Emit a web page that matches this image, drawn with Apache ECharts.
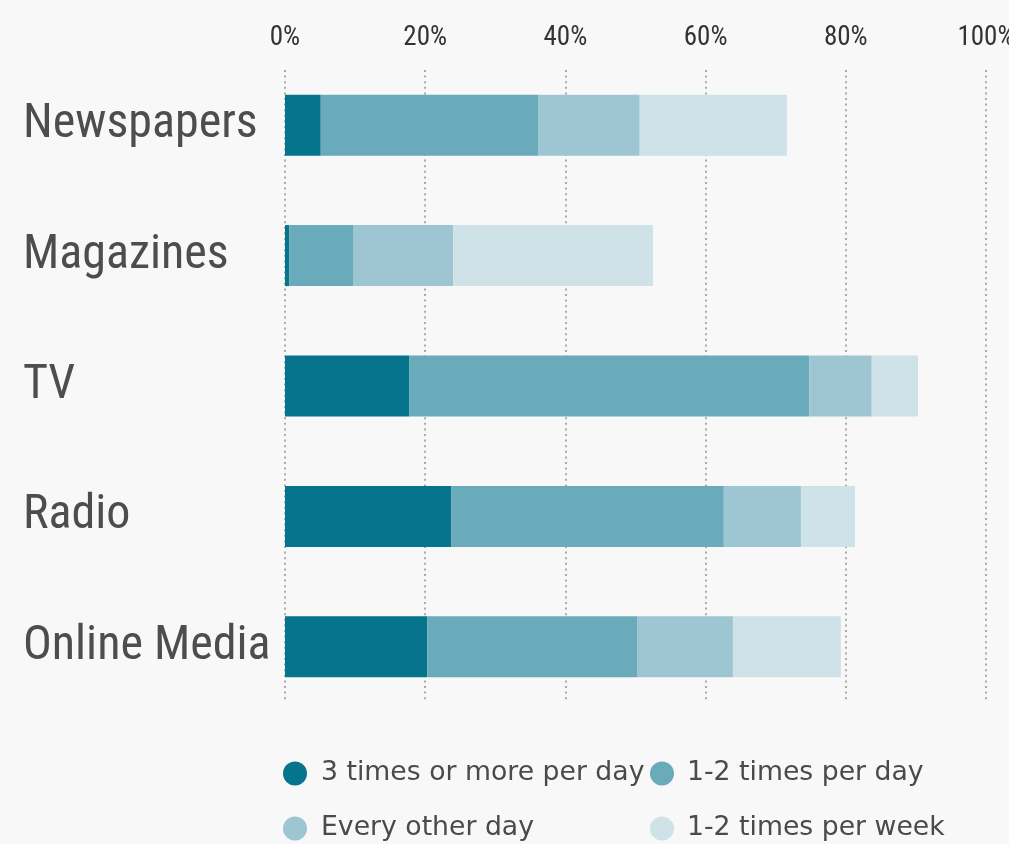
<!DOCTYPE html>
<html><head><meta charset="utf-8">
<script src="https://cdn.jsdelivr.net/npm/echarts@6/dist/echarts.min.js"></script>
<style>html,body{margin:0;padding:0;background:#f8f8f8}#main{width:1009px;height:844px}</style>
</head><body><div id="main"></div>
<script>
var categories = ["Newspapers", "Magazines", "TV", "Radio", "Online Media"];
var seriesNames = ["3 times or more per day", "1-2 times per day", "Every other day", "1-2 times per week"];
var s3PlusDay = [5.1, 0.6, 17.7, 23.7, 20.3];
var s12Day = [31.0, 9.1, 57.1, 38.9, 30.0];
var sOtherDay = [14.5, 14.3, 8.9, 11.0, 13.6];
var s12Week = [21.0, 28.5, 6.6, 7.7, 15.4];
var xTicks = [0, 20, 40, 60, 80, 100];
var colors = ["#06748c", "#6aabbb", "#9dc6d2", "#cee2e8"];

var allData = [s3PlusDay, s12Day, sOtherDay, s12Week];
var condensed = "'Roboto Condensed', 'DejaVu Sans Condensed', sans-serif";
var legendText = {color: '#4a4a4a', fontFamily: 'DejaVu Sans', fontSize: 26.7};

var chart = echarts.init(document.getElementById('main'), null, {renderer: 'canvas'});
chart.setOption({
  backgroundColor: '#f8f8f8',
  animation: false,
  grid: [
    {left: 285, right: 23, top: 60, height: 652, outerBoundsMode: 'none', containLabel: false},
    {left: 285, right: 23, top: 70, height: 632, outerBoundsMode: 'none', containLabel: false}
  ],
  xAxis: [
    {type: 'value', gridIndex: 0, position: 'top', min: xTicks[0], max: xTicks[xTicks.length - 1], interval: 20,
     axisLine: {show: false}, axisTick: {show: false}, splitLine: {show: false},
     axisLabel: {formatter: '{value}%', color: '#333', fontFamily: condensed, fontSize: 27, margin: 8}},
    {type: 'value', gridIndex: 1, min: xTicks[0], max: xTicks[xTicks.length - 1], interval: 20,
     axisLine: {show: false}, axisTick: {show: false}, axisLabel: {show: false},
     splitLine: {show: true, lineStyle: {color: '#aaaaaa', width: 2, type: [2, 3.6]}}}
  ],
  yAxis: [
    {type: 'category', gridIndex: 0, data: categories, inverse: true,
     axisLine: {show: false}, axisTick: {show: false}, splitLine: {show: false},
     axisLabel: {align: 'left', margin: 262, color: '#4d4d4d', fontFamily: condensed, fontSize: 48,
                 padding: [0, 0, 18, 0]}},
    {type: 'value', gridIndex: 1, min: 0, max: 1, show: false, splitLine: {show: false}}
  ],
  legend: [
    {orient: 'vertical', left: 283, top: 760, height: 120, padding: 0, itemWidth: 42, itemHeight: 24, itemGap: 28,
     icon: 'circle', data: [seriesNames[0], seriesNames[2]], textStyle: legendText},
    {orient: 'vertical', left: 650, top: 760, height: 120, padding: 0, itemWidth: 40, itemHeight: 24, itemGap: 28,
     icon: 'circle', data: [seriesNames[1], seriesNames[3]], textStyle: legendText}
  ],
  series: seriesNames.map(function (name, i) {
    return {
      name: name, type: 'bar', stack: 'total', xAxisIndex: 0, yAxisIndex: 0,
      barWidth: 61, data: allData[i],
      itemStyle: {color: colors[i]}
    };
  })
});
</script></body></html>
